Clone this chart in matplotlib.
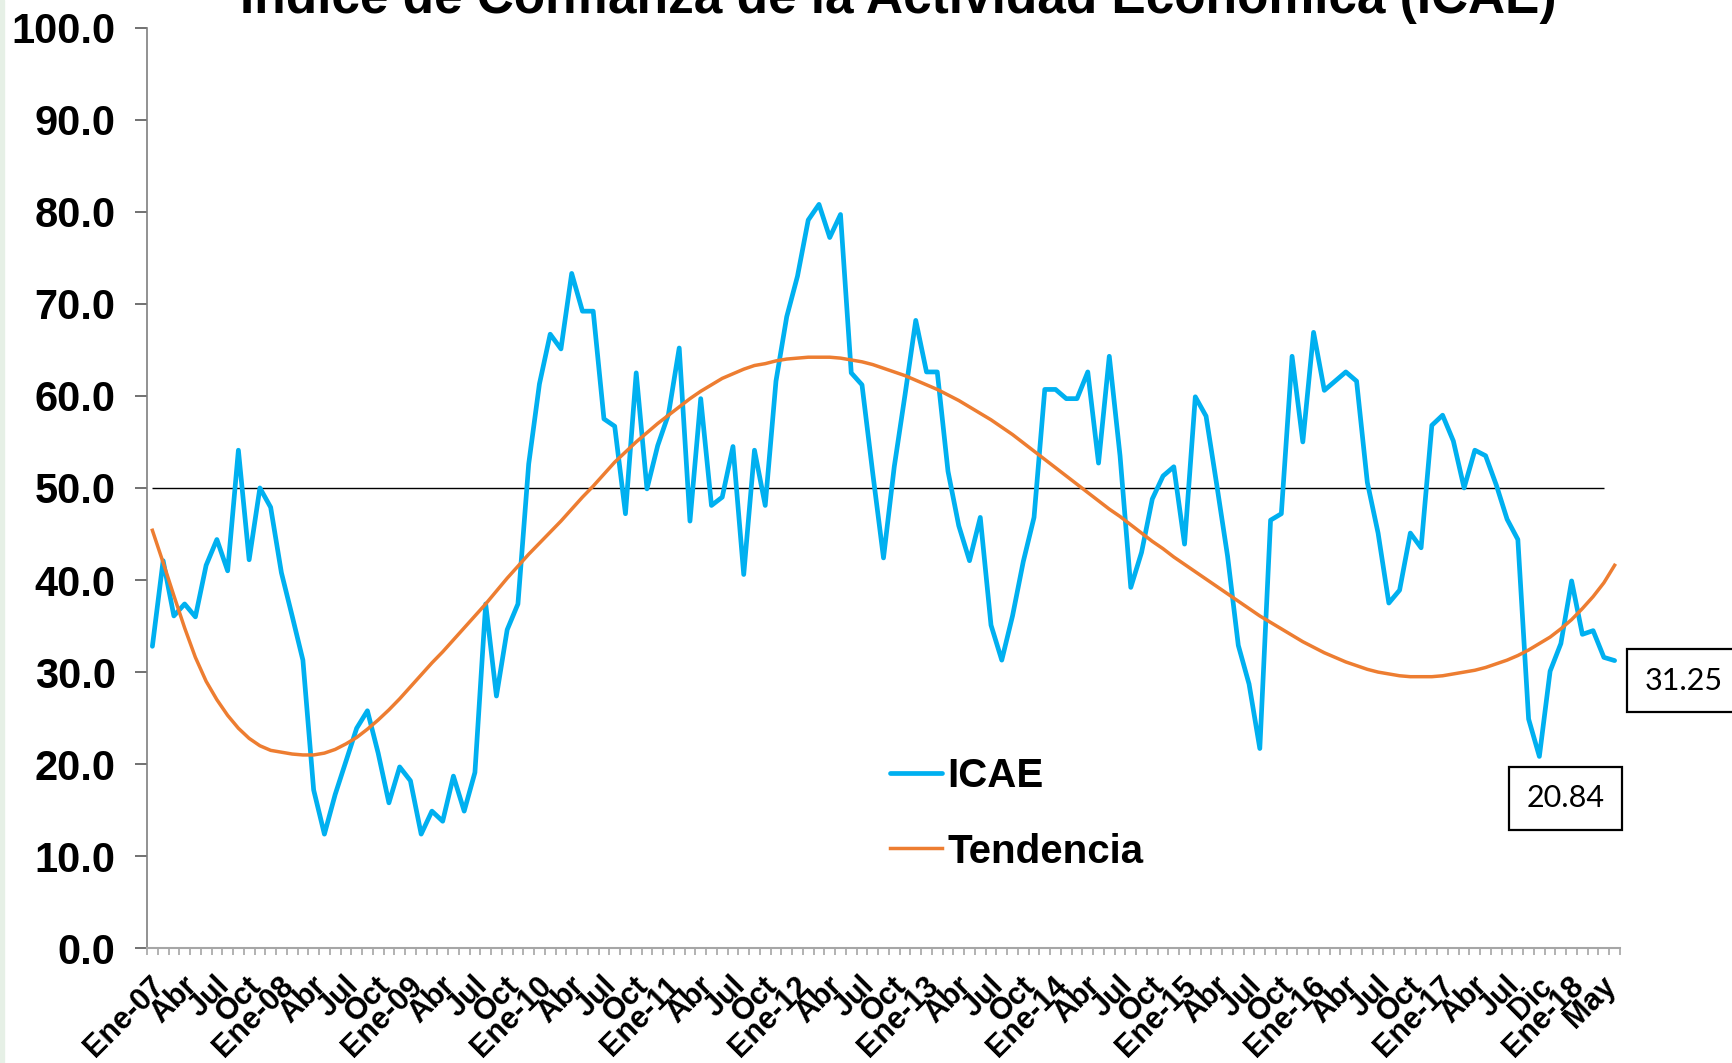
import numpy as np
import matplotlib
matplotlib.use("Agg")
import matplotlib.pyplot as plt
from matplotlib.patches import Rectangle
from matplotlib.transforms import ScaledTranslation

plt.rcParams['font.family'] = ['Liberation Sans', 'DejaVu Sans']

titulo = "Índice de Confianza de la Actividad Económica (ICAE)"

icae = [32.8, 42.1, 36.1, 37.4, 36.0, 41.6, 44.4, 41.0, 54.1, 42.2,
        50.0, 47.9, 40.8, 36.1, 31.3, 17.2, 12.4, 16.7, 20.3, 23.9,
        25.8, 21.2, 15.8, 19.7, 18.2, 12.4, 14.9, 13.8, 18.7, 14.9,
        19.1, 37.4, 27.4, 34.6, 37.4, 52.6, 61.3, 66.7, 65.1, 73.3,
        69.2, 69.2, 57.5, 56.7, 47.2, 62.5, 49.9, 54.6, 58.0, 65.2,
        46.4, 59.7, 48.1, 49.0, 54.5, 40.6, 54.1, 48.1, 61.6, 68.6,
        73.0, 79.1, 80.8, 77.2, 79.7, 62.5, 61.2, 51.6, 42.4, 52.3,
        60.1, 68.2, 62.6, 62.6, 51.8, 45.9, 42.1, 46.8, 35.1, 31.3,
        36.1, 42.0, 46.8, 60.7, 60.7, 59.7, 59.7, 62.6, 52.7, 64.3,
        53.5, 39.2, 43.0, 48.8, 51.3, 52.3, 43.9, 59.9, 57.8, 50.3,
        42.6, 32.9, 28.7, 21.7, 46.5, 47.2, 64.3, 55.0, 66.9, 60.6,
        61.6, 62.6, 61.6, 50.6, 45.1, 37.5, 38.9, 45.1, 43.5, 56.8,
        57.9, 55.1, 50.0, 54.1, 53.5, 50.3, 46.6, 44.4, 24.9, 20.84,
        30.1, 33.1, 39.9, 34.1, 34.5, 31.6, 31.25]

tendencia = [45.4, 41.9, 38.3, 34.8, 31.6, 29.0, 27.0, 25.3, 23.9, 22.8,
             22.0, 21.5, 21.3, 21.1, 21.0, 21.0, 21.2, 21.6, 22.2, 22.9,
             23.8, 24.8, 25.9, 27.1, 28.4, 29.7, 31.0, 32.2, 33.5, 34.8,
             36.1, 37.4, 38.8, 40.2, 41.5, 42.8, 44.0, 45.2, 46.4, 47.7,
             49.0, 50.2, 51.5, 52.8, 53.9, 55.0, 56.0, 57.0, 57.9, 58.8,
             59.7, 60.5, 61.2, 61.9, 62.4, 62.9, 63.3, 63.5, 63.8, 64.0,
             64.1, 64.2, 64.2, 64.2, 64.1, 63.9, 63.7, 63.4, 63.0, 62.6,
             62.2, 61.7, 61.2, 60.7, 60.1, 59.5, 58.8, 58.1, 57.4, 56.6,
             55.8, 54.9, 54.0, 53.1, 52.2, 51.3, 50.4, 49.5, 48.6, 47.7,
             46.9, 46.0, 45.1, 44.2, 43.4, 42.5, 41.7, 40.9, 40.1, 39.3,
             38.5, 37.7, 36.9, 36.1, 35.4, 34.7, 34.0, 33.3, 32.7, 32.1,
             31.6, 31.1, 30.7, 30.3, 30.0, 29.8, 29.6, 29.5, 29.5, 29.5,
             29.6, 29.8, 30.0, 30.2, 30.5, 30.9, 31.3, 31.8, 32.4, 33.1,
             33.8, 34.7, 35.7, 36.9, 38.2, 39.7, 41.6]

etiquetas = ["Ene-07", "Abr", "Jul", "Oct",
             "Ene-08", "Abr", "Jul", "Oct",
             "Ene-09", "Abr", "Jul", "Oct",
             "Ene-10", "Abr", "Jul", "Oct",
             "Ene-11", "Abr", "Jul", "Oct",
             "Ene-12", "Abr", "Jul", "Oct",
             "Ene-13", "Abr", "Jul", "Oct",
             "Ene-14", "Abr", "Jul", "Oct",
             "Ene-15", "Abr", "Jul", "Oct",
             "Ene-16", "Abr", "Jul", "Oct",
             "Ene-17", "Abr", "Jul", "Dic",
             "Ene-18", "May"]

y_ticks = [0, 10, 20, 30, 40, 50, 60, 70, 80, 90, 100]
umbral = 50.0
n_umbral = 136
anotados = [129, 136]

W, H = 1733, 1063
fig = plt.figure(figsize=(W / 100, H / 100), dpi=100)
fig.patches.append(Rectangle((0, 0), 4 / W, 1, transform=fig.transFigure,
                             color='#E6F0E6', zorder=0))

ax = fig.add_axes([147 / W, 1 - 948.3 / H, (1620 - 147) / W, (948.3 - 27.6) / H])
x = np.arange(len(icae))

ax.hlines(umbral, 0, n_umbral - 1, color='black', lw=1.0, zorder=2)
l1, = ax.plot(x, icae, color='#00B0F0', lw=3.4, solid_joinstyle='round',
              solid_capstyle='round', zorder=3)
l2, = ax.plot(x, tendencia, color='#ED7D31', lw=2.5, zorder=4)

ax.set_xlim(-0.5, len(icae) - 0.5)
ax.set_ylim(0, 100)
for s in ['top', 'right']:
    ax.spines[s].set_visible(False)
ax.spines['left'].set_color('#7F7F7F')
ax.spines['left'].set_linewidth(1.2)
ax.spines['bottom'].set_color('#A6A6A6')
ax.spines['bottom'].set_linewidth(1.5)

ax.set_yticks(y_ticks)
ax.set_yticklabels([f"{v:.1f}" for v in y_ticks], fontsize=30, fontweight='bold')
ax.tick_params(axis='y', length=8.5, width=1.2, color='#595959', pad=14)

ax.set_xticks(np.arange(0, len(icae), 3))
ax.set_xticklabels(etiquetas, rotation=45, ha='right', va='center',
                   rotation_mode='anchor', fontsize=22, fontweight='bold')
ax.set_xticks(np.arange(-0.5, len(icae) + 0.5, 1), minor=True)
ax.tick_params(axis='x', which='major', length=0, pad=16)
ax.tick_params(axis='x', which='minor', length=5, width=1.2, color='#A6A6A6')
shift = ScaledTranslation(8 / 100, -11 / 100, fig.dpi_scale_trans)
for lbl in ax.get_xticklabels():
    lbl.set_transform(lbl.get_transform() + shift)

ax.legend(handles=[l1, l2], labels=['ICAE', 'Tendencia'], loc='center left',
          bbox_to_anchor=(890 / W, 1 - 814 / H), bbox_transform=fig.transFigure,
          frameon=False, prop={'weight': 'bold', 'size': 29},
          handlelength=1.3, handletextpad=0.12, labelspacing=0.92,
          borderpad=0, borderaxespad=0)

offsets = {129: (26, -42), 136: (69, -20)}
for i in anotados:
    ax.annotate(f"{icae[i]:.2f}", (i, icae[i]), xytext=offsets[i],
                textcoords='offset pixels', ha='center', va='center',
                fontsize=22, family=['Lato', 'DejaVu Sans'],
                bbox=dict(boxstyle='square,pad=0.58', fc='white', ec='black', lw=1.6),
                annotation_clip=False, zorder=6)

fig.text(898 / W, 1 - 13 / H, titulo, ha='center', va='baseline',
         fontsize=37, fontweight='bold')

fig.savefig('out.png', dpi=100)
